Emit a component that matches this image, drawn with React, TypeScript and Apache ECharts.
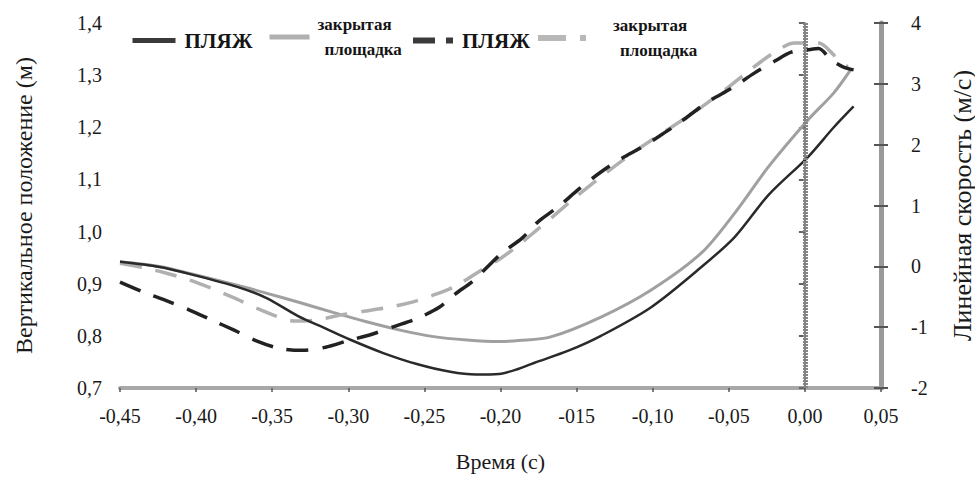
import React, { useEffect, useRef } from 'react';
import * as echarts from 'echarts';

const FONT = 'Liberation Serif';

// x-axis tick labels as printed in the original
const xTickLabels = ['-0,45', '-0,40', '-0,35', '-0,30', '-0,25', '-0,20', '-015', '-0,10', '-0,05', '0,00', '0,05'];

// Vertical position (m) – beach
const beachPosT = [-0.45, -0.424, -0.402, -0.373, -0.354, -0.333, -0.314, -0.299, -0.277, -0.255, -0.233, -0.216, -0.201, -0.188, -0.178, -0.155, -0.134, -0.101, -0.068, -0.046, -0.024, 0.002, 0.019, 0.032];
const beachPosY = [0.942, 0.932, 0.917, 0.894, 0.873, 0.838, 0.813, 0.793, 0.767, 0.746, 0.731, 0.726, 0.727, 0.737, 0.748, 0.772, 0.8, 0.855, 0.932, 0.99, 1.07, 1.143, 1.2, 1.24];

// Vertical position (m) – indoor court
const courtPosT = [-0.45, -0.424, -0.402, -0.373, -0.354, -0.332, -0.31, -0.288, -0.266, -0.245, -0.222, -0.201, -0.188, -0.167, -0.134, -0.101, -0.068, -0.046, -0.024, 0.002, 0.019, 0.03];
const courtPosY = [0.942, 0.933, 0.918, 0.897, 0.882, 0.864, 0.845, 0.827, 0.811, 0.799, 0.792, 0.789, 0.791, 0.798, 0.836, 0.888, 0.959, 1.036, 1.124, 1.214, 1.266, 1.31];

// Linear velocity (m/s) – beach
const beachVelT = [-0.45, -0.435, -0.42, -0.405, -0.39, -0.375, -0.36, -0.345, -0.33, -0.315, -0.3, -0.285, -0.27, -0.255, -0.24, -0.23, -0.218, -0.209, -0.199, -0.186, -0.175, -0.162, -0.148, -0.134, -0.12, -0.107, -0.095, -0.083, -0.064, -0.048, -0.033, -0.02, -0.009, 0.002, 0.009, 0.017, 0.025, 0.032];
const beachVelY = [-0.26, -0.42, -0.56, -0.71, -0.88, -1.05, -1.23, -1.35, -1.38, -1.33, -1.22, -1.12, -0.99, -0.86, -0.67, -0.46, -0.24, -0.02, 0.22, 0.46, 0.74, 0.98, 1.28, 1.55, 1.78, 1.96, 2.15, 2.35, 2.7, 2.93, 3.18, 3.37, 3.52, 3.56, 3.58, 3.4, 3.28, 3.23];

// Linear velocity (m/s) – indoor court
const courtVelT = [-0.45, -0.435, -0.42, -0.405, -0.39, -0.375, -0.36, -0.345, -0.335, -0.32, -0.305, -0.29, -0.275, -0.26, -0.245, -0.23, -0.215, -0.2, -0.188, -0.176, -0.166, -0.15, -0.13, -0.11, -0.09, -0.07, -0.05, -0.035, -0.018, -0.007, 0.009, 0.02, 0.028];
const courtVelY = [0.05, -0.02, -0.11, -0.22, -0.36, -0.52, -0.69, -0.84, -0.9, -0.88, -0.8, -0.74, -0.68, -0.6, -0.48, -0.33, -0.1, 0.13, 0.35, 0.6, 0.81, 1.15, 1.55, 1.92, 2.25, 2.58, 2.95, 3.25, 3.55, 3.67, 3.67, 3.45, 3.28];

const zip = (t: number[], y: number[]) => t.map((v, i) => [v, y[i]]);

const NAMES = {
  beachPos: 'ПЛЯЖ (положение)',
  courtPos: 'закрытая площадка (положение)',
  beachVel: 'ПЛЯЖ (скорость)',
  courtVel: 'закрытая площадка (скорость)',
};

const small = { fontFamily: FONT, fontSize: 17, fontWeight: 'bold', color: '#151515', lineHeight: 25 };
const legendRich = {
  big: { fontFamily: FONT, fontSize: 21, fontWeight: 'bold', color: '#151515', padding: [0, 0, 0, 4] },
  s1: { ...small, padding: [0, 0, 0, 3] },
  s2: { ...small, padding: [0, 0, 0, 10] },
  s3: { ...small, padding: [0, 0, 0, 22] },
  s4: { ...small, padding: [0, 0, 0, 29] },
};

function makeLegend(left: number, top: number, name: string, width: number, fmt: string, lineStyle: any) {
  return {
    left,
    top,
    itemWidth: width,
    itemHeight: 10,
    selectedMode: false,
    padding: 0,
    data: [{ name, lineStyle, itemStyle: { opacity: 0 } }],
    formatter: () => fmt,
    textStyle: { fontFamily: FONT, rich: legendRich },
  };
}

const CSS = `#chart-box text { font-family: "Liberation Serif", "Times New Roman", serif !important; }`;

export default function App() {
  const ref = useRef<HTMLDivElement>(null);
  useEffect(() => {
    document.body.style.margin = '0';
    const chart = echarts.init(ref.current!, null, { renderer: 'svg' });
    const option: any = {
      animation: false,
      backgroundColor: '#fff',
      textStyle: { fontFamily: FONT },
      grid: { left: 120, right: 94, top: 23, bottom: 108, outerBoundsMode: 'none' },
      legend: [
        makeLegend(130, 30, NAMES.beachPos, 43, '{big|ПЛЯЖ}', { width: 5, color: '#3a3a3a' }),
        makeLegend(267, 16, NAMES.courtPos, 40, '{s1|закрытая}\n{s2|площадка}', { width: 5, color: '#b0b0b0' }),
        makeLegend(410, 30, NAMES.beachVel, 40, '{big|ПЛЯЖ}', { width: 6, color: '#3a3a3a', type: [22, 11, 7, 10] }),
        makeLegend(535, 17, NAMES.courtVel, 48, '{s3|закрытая}\n{s4|площадка}', { width: 6, color: '#b8b8b8', type: [28, 14, 6, 10] }),
      ],
      xAxis: {
        type: 'value',
        min: -0.45,
        max: 0.05,
        interval: 0.05,
        name: 'Время (с)',
        nameLocation: 'middle',
        nameGap: 62,
        nameTextStyle: { fontFamily: FONT, fontSize: 22, color: '#1a1a1a' },
        axisLine: { show: true, onZero: false, lineStyle: { color: '#a8a8a8', width: 4 } },
        axisTick: { show: true, length: 4, lineStyle: { color: '#555', width: 1.5 } },
        axisLabel: {
          margin: 18,
          fontFamily: FONT,
          fontSize: 20,
          color: '#1a1a1a',
          formatter: (v: number) => xTickLabels[Math.round((v + 0.45) / 0.05)] ?? '',
        },
        splitLine: { show: false },
      },
      yAxis: [
        {
          type: 'value',
          position: 'left',
          min: 0.7,
          max: 1.4,
          interval: 0.1,
          name: 'Вертикальное положение (м)',
          nameLocation: 'middle',
          nameRotate: 90,
          nameGap: 84,
          nameTextStyle: { fontFamily: FONT, fontSize: 24, color: '#1a1a1a' },
          axisLine: { show: true, lineStyle: { color: '#555', width: 1.5 } },
          axisTick: { show: true, length: 6, lineStyle: { color: '#666', width: 2 } },
          axisLabel: {
            margin: 18,
            fontFamily: FONT,
            fontSize: 20,
            color: '#1a1a1a',
            formatter: (v: number) => v.toFixed(1).replace('.', ','),
          },
          splitLine: { show: false },
        },
        {
          type: 'value',
          position: 'right',
          min: -2,
          max: 4,
          interval: 1,
          name: 'Линейная скорость (м/с)',
          nameLocation: 'middle',
          nameRotate: 90,
          nameGap: 68,
          nameTextStyle: { fontFamily: FONT, fontSize: 26, color: '#1a1a1a' },
          axisLine: { show: true, lineStyle: { color: '#9a9a9a', width: 5 } },
          axisTick: { show: true, length: 7, lineStyle: { color: '#555', width: 2 } },
          axisLabel: { margin: 30, fontFamily: FONT, fontSize: 20, color: '#1a1a1a' },
          splitLine: { show: false },
        },
        {
          type: 'value',
          position: 'right',
          min: -2,
          max: 4,
          interval: 1,
          axisLine: { show: false },
          axisTick: { show: true, inside: true, length: 7, lineStyle: { color: '#555', width: 2 } },
          axisLabel: { show: false },
          splitLine: { show: false },
        },
      ],
      series: [
        {
          name: NAMES.courtPos,
          type: 'line',
          yAxisIndex: 0,
          symbol: 'none',
          smooth: 0.3,
          data: zip(courtPosT, courtPosY),
          itemStyle: { color: '#a0a0a0' },
          lineStyle: { color: '#a0a0a0', width: 3 },
          z: 2,
        },
        {
          name: NAMES.courtVel,
          type: 'line',
          yAxisIndex: 1,
          symbol: 'none',
          smooth: 0.3,
          data: zip(courtVelT, courtVelY),
          itemStyle: { color: '#b0b0b0' },
          lineStyle: { color: '#b0b0b0', width: 3.5, type: [22, 14] },
          z: 3,
          markLine: {
            silent: true,
            symbol: 'none',
            label: { show: false },
            lineStyle: { color: '#858585', width: 5, type: [2, 1] },
            data: [{ xAxis: 0.001 }],
          },
        },
        {
          name: NAMES.beachPos,
          type: 'line',
          yAxisIndex: 0,
          symbol: 'none',
          smooth: 0.3,
          data: zip(beachPosT, beachPosY),
          itemStyle: { color: '#2a2a2a' },
          lineStyle: { color: '#2a2a2a', width: 2.5 },
          z: 4,
        },
        {
          name: NAMES.beachVel,
          type: 'line',
          yAxisIndex: 1,
          symbol: 'none',
          smooth: 0.3,
          data: zip(beachVelT, beachVelY),
          itemStyle: { color: '#222' },
          lineStyle: { color: '#222', width: 3.5, type: [22, 14] },
          z: 5,
        },
      ],
    };
    chart.setOption(option);
    return () => chart.dispose();
  }, []);
  return (
    <div id="chart-box">
      <style>{CSS}</style>
      <div ref={ref} style={{ width: 975, height: 496, background: '#fff' }} />
    </div>
  );
}
